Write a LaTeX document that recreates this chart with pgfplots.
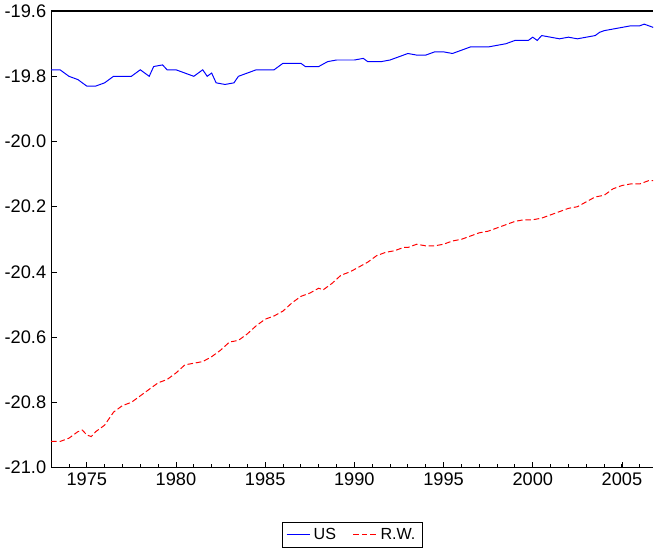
\documentclass[border=0pt]{standalone}
\usepackage{pgfplots}
\pgfplotsset{compat=1.18}
\usepackage{fontspec}
\setmainfont{Liberation Sans}
\begin{document}
\begin{tikzpicture}
\begin{axis}[
  scale only axis, width=430pt, height=326pt,
  xmin=1973, xmax=2006.75, ymin=-21, ymax=-19.6,
  axis x line*=bottom, axis y line*=left,
  axis line style={draw=none},
  xtick={1975,1980,...,2005}, minor xtick={1973,...,2006},
  ytick={-21,-20.8,...,-19.6},
  yticklabel style={/pgf/number format/.cd,fixed,fixed zerofill,precision=1},
  xticklabel style={/pgf/number format/1000 sep={}},
  /pgf/number format/assume math mode=true,
  tick align=inside, tick style={black,line width=0.6pt},
  major tick length=4pt, minor tick length=2.5pt,
  ticklabel style={font=\fontsize{13}{15}\selectfont},
  legend style={at={(0.5,-0.12)},anchor=north,legend columns=2,font=\fontsize{11.5}{13}\selectfont,draw=black,/tikz/every even column/.append style={column sep=10pt}},
  legend cell align=left,
  clip=false,
]
\draw[black,line width=1.2pt] (rel axis cs:0,1) -- (rel axis cs:1,1);
\draw[black,line width=0.8pt] (rel axis cs:0,1) -- (rel axis cs:0,0) -- (rel axis cs:1,0);
\addlegendimage{blue,line width=0.7pt}
\addlegendentry{US}
\addlegendimage{red,line width=0.7pt,dash pattern=on 4pt off 2pt}
\addlegendentry{R.W.}
\addplot[blue,line width=0.7pt,forget plot] coordinates {
(1973,-19.78)(1973.5,-19.78)(1974,-19.80)(1974.5,-19.81)(1975,-19.83)(1975.5,-19.83)(1976,-19.82)(1976.5,-19.80)(1977,-19.80)(1977.5,-19.80)(1978,-19.78)(1978.5,-19.80)(1978.75,-19.77)(1979.25,-19.765)(1979.5,-19.78)(1980,-19.78)(1980.5,-19.79)(1981,-19.80)(1981.5,-19.78)(1981.75,-19.80)(1982,-19.79)(1982.25,-19.82)(1982.75,-19.825)(1983.25,-19.82)(1983.5,-19.80)(1984,-19.79)(1984.5,-19.78)(1985,-19.78)(1985.5,-19.78)(1986,-19.76)(1987,-19.76)(1987.25,-19.77)(1988,-19.77)(1988.5,-19.755)(1989,-19.75)(1990,-19.75)(1990.5,-19.745)(1990.75,-19.755)(1991.5,-19.755)(1992,-19.75)(1993,-19.73)(1993.5,-19.735)(1994,-19.735)(1994.5,-19.725)(1995,-19.725)(1995.5,-19.73)(1996,-19.72)(1996.5,-19.71)(1997.5,-19.71)(1998,-19.705)(1998.5,-19.7)(1999,-19.69)(1999.75,-19.69)(2000,-19.68)(2000.25,-19.69)(2000.5,-19.675)(2001,-19.68)(2001.5,-19.685)(2002,-19.68)(2002.5,-19.685)(2003,-19.68)(2003.5,-19.675)(2003.75,-19.665)(2004,-19.66)(2004.5,-19.655)(2005,-19.65)(2005.5,-19.645)(2006,-19.645)(2006.25,-19.64)(2006.75,-19.65)};
\addplot[red,line width=0.7pt,dash pattern=on 4pt off 2pt,forget plot] coordinates {
(1973,-20.92)(1973.5,-20.92)(1974,-20.91)(1974.5,-20.89)(1974.75,-20.885)(1975,-20.90)(1975.25,-20.905)(1975.5,-20.89)(1976,-20.87)(1976.5,-20.83)(1977,-20.81)(1977.5,-20.80)(1978,-20.78)(1978.5,-20.76)(1979,-20.74)(1979.5,-20.73)(1980,-20.71)(1980.5,-20.685)(1981,-20.68)(1981.5,-20.675)(1982,-20.66)(1982.5,-20.64)(1983,-20.615)(1983.5,-20.61)(1984,-20.59)(1984.5,-20.565)(1985,-20.545)(1985.5,-20.535)(1986,-20.52)(1986.5,-20.495)(1987,-20.475)(1987.5,-20.465)(1988,-20.45)(1988.25,-20.455)(1988.75,-20.435)(1989.25,-20.41)(1989.75,-20.40)(1990.25,-20.385)(1990.75,-20.37)(1991.25,-20.35)(1991.75,-20.34)(1992.25,-20.335)(1992.75,-20.325)(1993,-20.325)(1993.5,-20.315)(1994,-20.32)(1994.5,-20.32)(1995,-20.315)(1995.5,-20.305)(1996,-20.30)(1996.5,-20.29)(1997,-20.28)(1997.5,-20.275)(1998,-20.265)(1998.5,-20.255)(1999,-20.245)(1999.5,-20.24)(2000,-20.24)(2000.5,-20.235)(2001,-20.225)(2001.5,-20.215)(2002,-20.205)(2002.5,-20.2)(2003,-20.185)(2003.5,-20.17)(2004,-20.165)(2004.5,-20.145)(2005,-20.135)(2005.5,-20.13)(2006,-20.13)(2006.5,-20.12)(2006.75,-20.12)};
\end{axis}
\end{tikzpicture}
\end{document}
